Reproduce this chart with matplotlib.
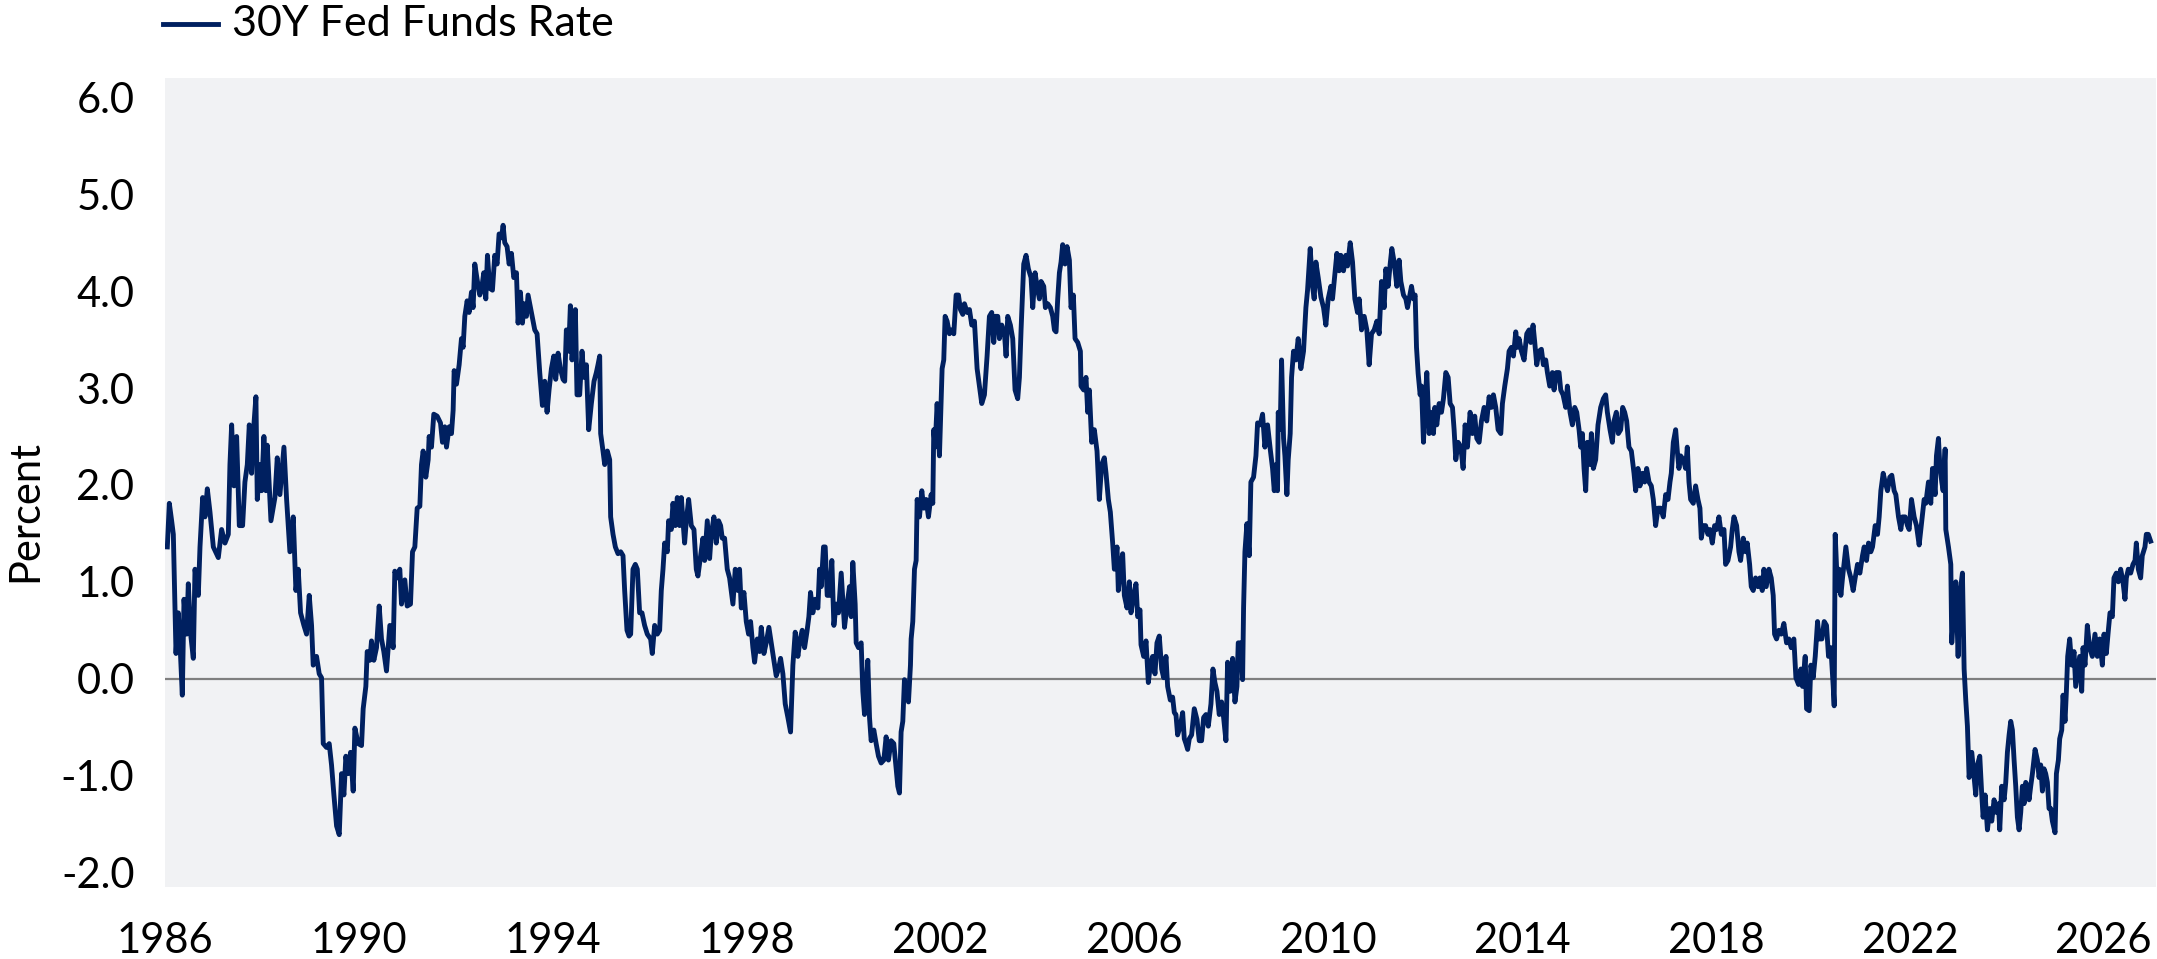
import numpy as np
import matplotlib.pyplot as plt
from matplotlib.lines import Line2D

plt.rcParams['font.family'] = ['Lato', 'DejaVu Sans']

SERIES_NAME = "30Y Fed Funds Rate"
Y_LABEL = "Percent"
X_TICKS = [1986, 1990, 1994, 1998, 2002, 2006, 2010, 2014, 2018, 2022, 2026]
Y_TICKS = [-2.0, -1.0, 0.0, 1.0, 2.0, 3.0, 4.0, 5.0, 6.0]

# values, decimal year -> percent
dates_1986 = [1986.048, 1986.089, 1986.137, 1986.172, 1986.227, 1986.275, 1986.309, 1986.357,
              1986.392, 1986.447, 1986.481, 1986.529, 1986.584, 1986.619, 1986.687, 1986.722,
              1986.777, 1986.825, 1986.873, 1986.928, 1986.997, 1987.100, 1987.168, 1987.237,
              1987.306, 1987.340, 1987.375, 1987.423, 1987.478, 1987.533, 1987.601, 1987.649,
              1987.698, 1987.739, 1987.787, 1987.821, 1987.876, 1987.904, 1987.959, 1987.993,
              1988.041, 1988.082, 1988.110, 1988.186, 1988.268, 1988.316, 1988.371, 1988.454,
              1988.509, 1988.577, 1988.646, 1988.701, 1988.749, 1988.797, 1988.866, 1988.921,
              1988.976, 1989.024, 1989.058, 1989.127, 1989.182, 1989.230, 1989.265, 1989.333,
              1989.388, 1989.436, 1989.485, 1989.540, 1989.595, 1989.643, 1989.691, 1989.732,
              1989.780, 1989.828, 1989.883, 1989.918, 1989.986, 1990.055, 1990.089, 1990.144,
              1990.172, 1990.227, 1990.261, 1990.309, 1990.364, 1990.419, 1990.467, 1990.515,
              1990.570, 1990.639, 1990.708, 1990.742, 1990.790, 1990.845, 1990.880, 1990.948,
              1990.997, 1991.065, 1991.107, 1991.155, 1991.203, 1991.258, 1991.292, 1991.326,
              1991.381, 1991.430, 1991.450, 1991.498, 1991.546, 1991.615, 1991.684, 1991.725,
              1991.773, 1991.808, 1991.863, 1991.911, 1991.945, 1991.966, 1992.014, 1992.069,
              1992.117, 1992.151, 1992.186, 1992.234, 1992.275, 1992.323, 1992.357, 1992.392,
              1992.440, 1992.495, 1992.529, 1992.577, 1992.619, 1992.653, 1992.701, 1992.756,
              1992.804, 1992.852, 1992.893, 1992.942, 1992.976, 1993.010, 1993.058, 1993.100,
              1993.148, 1993.196, 1993.251, 1993.285, 1993.333, 1993.375, 1993.409, 1993.457,
              1993.491, 1993.540, 1993.595, 1993.629, 1993.677, 1993.732, 1993.787, 1993.835,
              1993.883, 1993.924, 1993.973, 1994.021, 1994.062, 1994.110, 1994.158, 1994.213]
rate_1986 = [1.36, 1.81, 1.63, 1.49, 0.26, 0.68, 0.37, -0.17,
             0.82, 0.46, 0.98, 0.46, 0.21, 1.13, 0.86, 1.36,
             1.87, 1.67, 1.96, 1.72, 1.36, 1.25, 1.54, 1.40,
             1.49, 2.21, 2.62, 1.99, 2.50, 1.58, 1.58, 2.03,
             2.21, 2.62, 2.12, 2.53, 2.91, 1.85, 2.21, 1.94,
             2.50, 1.94, 2.41, 1.63, 1.87, 2.28, 1.90, 2.39,
             1.85, 1.31, 1.67, 0.91, 1.13, 0.68, 0.55, 0.46,
             0.86, 0.55, 0.14, 0.23, 0.05, 0.01, -0.67, -0.71,
             -0.67, -0.89, -1.20, -1.52, -1.61, -0.98, -1.20, -0.80,
             -0.98, -0.76, -1.16, -0.51, -0.67, -0.69, -0.31, -0.08,
             0.28, 0.19, 0.39, 0.19, 0.32, 0.75, 0.41, 0.28,
             0.08, 0.55, 0.32, 1.11, 1.04, 1.13, 0.77, 1.02,
             0.75, 0.77, 1.31, 1.36, 1.76, 1.78, 2.21, 2.35,
             2.08, 2.26, 2.50, 2.39, 2.73, 2.71, 2.64, 2.44,
             2.60, 2.39, 2.60, 2.53, 2.77, 3.18, 3.04, 3.24,
             3.51, 3.42, 3.74, 3.90, 3.78, 3.99, 3.83, 4.28,
             4.12, 3.96, 4.01, 4.19, 3.92, 4.37, 4.03, 4.01,
             4.37, 4.28, 4.59, 4.55, 4.68, 4.50, 4.46, 4.28,
             4.39, 4.14, 4.19, 3.67, 3.99, 3.67, 3.87, 3.74,
             3.96, 3.83, 3.69, 3.60, 3.56, 3.16, 2.82, 3.07,
             2.75, 2.98, 3.20, 3.33, 3.09, 3.36, 3.20, 3.09]

dates_1994 = [1994.247, 1994.281, 1994.329, 1994.364, 1994.398, 1994.439, 1994.467, 1994.501,
              1994.556, 1994.604, 1994.646, 1994.694, 1994.742, 1994.797, 1994.852, 1994.900,
              1994.934, 1994.969, 1994.989, 1995.037, 1995.072, 1995.127, 1995.175, 1995.195,
              1995.244, 1995.292, 1995.347, 1995.402, 1995.450, 1995.484, 1995.532, 1995.574,
              1995.608, 1995.656, 1995.704, 1995.745, 1995.793, 1995.841, 1995.896, 1995.951,
              1996.020, 1996.054, 1996.103, 1996.158, 1996.206, 1996.240, 1996.275, 1996.309,
              1996.364, 1996.391, 1996.446, 1996.481, 1996.529, 1996.570, 1996.618, 1996.653,
              1996.721, 1996.756, 1996.804, 1996.859, 1996.914, 1996.962, 1996.996, 1997.051,
              1997.099, 1997.134, 1997.189, 1997.237, 1997.271, 1997.326, 1997.374, 1997.422,
              1997.464, 1997.498, 1997.546, 1997.601, 1997.649, 1997.718, 1997.766, 1997.821,
              1997.855, 1997.890, 1997.945, 1997.993, 1998.041, 1998.082, 1998.130, 1998.165,
              1998.220, 1998.268, 1998.302, 1998.357, 1998.405, 1998.460, 1998.508, 1998.563,
              1998.611, 1998.659, 1998.701, 1998.749, 1998.797, 1998.852, 1998.907, 1998.955,
              1999.003, 1999.058, 1999.106, 1999.148, 1999.196, 1999.244, 1999.285, 1999.319,
              1999.367, 1999.416, 1999.471, 1999.505, 1999.539, 1999.587, 1999.622, 1999.663,
              1999.711, 1999.759, 1999.801, 1999.849, 1999.897, 1999.952, 2000.020, 2000.075,
              2000.123, 2000.158, 2000.192, 2000.240, 2000.261, 2000.309, 2000.364, 2000.398,
              2000.433, 2000.467, 2000.501, 2000.536, 2000.570, 2000.625, 2000.673, 2000.721,
              2000.776, 2000.831, 2000.879, 2000.927, 2000.982, 2001.037, 2001.085, 2001.120,
              2001.154, 2001.188, 2001.223, 2001.257, 2001.291, 2001.340, 2001.381, 2001.395,
              2001.429, 2001.464, 2001.498, 2001.519, 2001.567, 2001.615, 2001.656, 2001.704,
              2001.752, 2001.807, 2001.842, 2001.862, 2001.890, 2001.931, 2001.979, 2002.013,
              2002.034, 2002.068, 2002.096, 2002.137, 2002.185, 2002.233, 2002.275, 2002.323,
              2002.371, 2002.412, 2002.460, 2002.495, 2002.550, 2002.598, 2002.646]
rate_1994 = [3.07, 3.60, 3.38, 3.85, 3.29, 3.56, 3.81, 2.93,
             2.93, 3.38, 3.11, 3.24, 2.57, 2.84, 3.07, 3.16,
             3.24, 3.33, 2.53, 2.35, 2.21, 2.35, 2.26, 1.67,
             1.49, 1.36, 1.29, 1.31, 1.27, 0.91, 0.50, 0.44,
             0.46, 1.13, 1.18, 1.13, 0.68, 0.68, 0.55, 0.46,
             0.41, 0.26, 0.55, 0.46, 0.50, 0.91, 1.13, 1.40,
             1.31, 1.63, 1.54, 1.81, 1.58, 1.87, 1.58, 1.87,
             1.40, 1.63, 1.85, 1.58, 1.54, 1.13, 1.06, 1.27,
             1.45, 1.22, 1.63, 1.24, 1.49, 1.67, 1.40, 1.63,
             1.58, 1.45, 1.45, 1.13, 1.04, 0.77, 1.13, 0.91,
             1.13, 0.73, 0.89, 0.59, 0.46, 0.59, 0.32, 0.17,
             0.41, 0.28, 0.53, 0.26, 0.37, 0.53, 0.37, 0.19,
             0.03, 0.10, 0.21, 0.05, -0.26, -0.40, -0.55, 0.14,
             0.48, 0.23, 0.41, 0.50, 0.32, 0.48, 0.64, 0.89,
             0.68, 0.82, 0.73, 1.13, 0.95, 1.36, 1.36, 0.86,
             0.86, 1.22, 0.55, 0.77, 0.68, 1.09, 0.53, 0.77,
             0.95, 0.64, 1.20, 0.77, 0.37, 0.32, 0.37, -0.13,
             -0.37, -0.08, 0.19, -0.40, -0.64, -0.53, -0.67, -0.80,
             -0.87, -0.84, -0.60, -0.84, -0.64, -0.67, -0.93, -1.11,
             -1.18, -0.55, -0.44, -0.01, -0.08, -0.24, 0.14, 0.41,
             0.59, 1.13, 1.22, 1.85, 1.67, 1.94, 1.76, 1.85,
             1.67, 1.90, 1.81, 2.57, 2.39, 2.84, 2.30, 2.84,
             3.20, 3.29, 3.74, 3.69, 3.56, 3.60, 3.56, 3.96,
             3.96, 3.81, 3.76, 3.87, 3.78, 3.81, 3.65]

dates_2002 = [2002.701, 2002.756, 2002.804, 2002.852, 2002.907, 2002.962, 2003.010, 2003.058,
              2003.100, 2003.127, 2003.182, 2003.216, 2003.265, 2003.320, 2003.354, 2003.388,
              2003.443, 2003.491, 2003.539, 2003.594, 2003.629, 2003.663, 2003.718, 2003.766,
              2003.814, 2003.869, 2003.904, 2003.952, 2003.993, 2004.041, 2004.076, 2004.131,
              2004.165, 2004.213, 2004.268, 2004.316, 2004.351, 2004.385, 2004.419, 2004.454,
              2004.488, 2004.522, 2004.570, 2004.612, 2004.660, 2004.694, 2004.742, 2004.777,
              2004.832, 2004.887, 2004.900, 2004.955, 2005.003, 2005.038, 2005.072, 2005.120,
              2005.175, 2005.230, 2005.278, 2005.326, 2005.381, 2005.416, 2005.464, 2005.505,
              2005.553, 2005.588, 2005.643, 2005.670, 2005.711, 2005.759, 2005.794, 2005.849,
              2005.897, 2005.931, 2005.986, 2006.034, 2006.069, 2006.117, 2006.138, 2006.193,
              2006.241, 2006.289, 2006.330, 2006.378, 2006.426, 2006.467, 2006.515, 2006.564,
              2006.605, 2006.653, 2006.687, 2006.742, 2006.790, 2006.825, 2006.859, 2006.893,
              2006.948, 2006.997, 2007.031, 2007.065, 2007.100, 2007.134, 2007.182, 2007.237,
              2007.292, 2007.340, 2007.388, 2007.430, 2007.478, 2007.526, 2007.581, 2007.622,
              2007.663, 2007.704, 2007.752, 2007.801, 2007.842, 2007.890, 2007.924, 2007.979,
              2008.028, 2008.076, 2008.117, 2008.144, 2008.199, 2008.234, 2008.254, 2008.282,
              2008.323, 2008.371, 2008.405, 2008.460, 2008.509, 2008.543, 2008.598, 2008.646,
              2008.694, 2008.749, 2008.804, 2008.852, 2008.887, 2008.921, 2008.955, 2008.969,
              2009.010, 2009.038, 2009.079, 2009.107, 2009.148, 2009.175, 2009.216, 2009.244,
              2009.285, 2009.333, 2009.381, 2009.436, 2009.491, 2009.540, 2009.574, 2009.629,
              2009.677, 2009.711, 2009.746, 2009.794, 2009.849, 2009.904, 2009.952, 2010.000,
              2010.055, 2010.089, 2010.124, 2010.179, 2010.227, 2010.261, 2010.316, 2010.364,
              2010.399, 2010.454, 2010.502, 2010.550, 2010.605, 2010.639, 2010.688, 2010.743,
              2010.797, 2010.845, 2010.894, 2010.949, 2011.004, 2011.052, 2011.100]
rate_2002 = [3.69, 3.20, 3.02, 2.84, 2.93, 3.33, 3.74, 3.78,
             3.47, 3.74, 3.74, 3.51, 3.65, 3.56, 3.33, 3.74,
             3.65, 3.51, 2.98, 2.89, 3.11, 3.60, 4.28, 4.37,
             4.23, 4.14, 3.83, 4.19, 4.05, 3.92, 4.10, 4.05,
             3.83, 3.87, 3.83, 3.74, 3.60, 3.58, 3.92, 4.19,
             4.30, 4.48, 4.28, 4.46, 4.32, 3.83, 3.96, 3.51,
             3.47, 3.38, 3.02, 2.98, 3.11, 2.75, 2.98, 2.44,
             2.57, 2.35, 1.85, 2.21, 2.28, 2.12, 1.85, 1.72,
             1.40, 1.13, 1.36, 0.91, 1.13, 1.29, 0.86, 0.73,
             1.00, 0.68, 0.86, 0.98, 0.64, 0.71, 0.35, 0.23,
             0.39, -0.04, 0.14, 0.23, 0.05, 0.37, 0.44, 0.10,
             0.01, 0.23, -0.08, -0.22, -0.19, -0.35, -0.37, -0.58,
             -0.49, -0.35, -0.62, -0.67, -0.73, -0.62, -0.58, -0.31,
             -0.42, -0.64, -0.64, -0.40, -0.37, -0.49, -0.26, 0.10,
             -0.04, -0.13, -0.37, -0.24, -0.40, -0.64, 0.17, -0.13,
             0.21, -0.24, -0.08, 0.37, 0.37, -0.01, 0.73, 1.31,
             1.60, 1.27, 2.03, 2.08, 2.30, 2.64, 2.62, 2.73,
             2.39, 2.62, 2.37, 2.17, 1.94, 2.21, 1.94, 2.75,
             2.57, 3.29, 2.48, 2.30, 1.90, 2.26, 2.53, 3.11,
             3.38, 3.29, 3.51, 3.20, 3.38, 3.83, 4.01, 4.44,
             4.05, 3.92, 4.30, 4.14, 3.94, 3.83, 3.65, 3.92,
             4.05, 3.92, 4.10, 4.39, 4.21, 4.37, 4.21, 4.37,
             4.26, 4.50, 4.30, 3.92, 3.78, 3.92, 3.60, 3.74,
             3.60, 3.24, 3.56, 3.60, 3.69, 3.56, 4.10]

dates_2011 = [2011.155, 2011.189, 2011.237, 2011.279, 2011.313, 2011.361, 2011.416, 2011.464,
              2011.499, 2011.554, 2011.602, 2011.636, 2011.670, 2011.719, 2011.760, 2011.794,
              2011.822, 2011.856, 2011.897, 2011.925, 2011.966, 2011.994, 2012.035, 2012.083,
              2012.117, 2012.172, 2012.200, 2012.241, 2012.289, 2012.337, 2012.378, 2012.427,
              2012.475, 2012.516, 2012.564, 2012.598, 2012.633, 2012.681, 2012.736, 2012.784,
              2012.825, 2012.873, 2012.928, 2012.976, 2013.024, 2013.066, 2013.114, 2013.162,
              2013.217, 2013.272, 2013.320, 2013.368, 2013.409, 2013.457, 2013.506, 2013.561,
              2013.595, 2013.643, 2013.698, 2013.732, 2013.780, 2013.822, 2013.870, 2013.904,
              2013.938, 2013.987, 2014.042, 2014.097, 2014.145, 2014.179, 2014.227, 2014.262,
              2014.303, 2014.351, 2014.399, 2014.440, 2014.488, 2014.523, 2014.571, 2014.626,
              2014.660, 2014.708, 2014.763, 2014.798, 2014.846, 2014.901, 2014.935, 2014.990,
              2015.038, 2015.086, 2015.128, 2015.176, 2015.210, 2015.244, 2015.279, 2015.313,
              2015.347, 2015.402, 2015.430, 2015.471, 2015.519, 2015.567, 2015.622, 2015.677,
              2015.725, 2015.760, 2015.815, 2015.863, 2015.897, 2015.945, 2015.986, 2016.035,
              2016.076, 2016.117, 2016.158, 2016.206, 2016.255, 2016.310, 2016.344, 2016.392,
              2016.433, 2016.482, 2016.530, 2016.571, 2016.619, 2016.667, 2016.708, 2016.756,
              2016.805, 2016.859, 2016.914, 2016.963, 2017.011, 2017.052, 2017.079, 2017.121,
              2017.169, 2017.203, 2017.237, 2017.272, 2017.327, 2017.375, 2017.409, 2017.444,
              2017.478, 2017.533, 2017.581, 2017.629, 2017.670, 2017.698, 2017.739, 2017.787,
              2017.835, 2017.877, 2017.925, 2017.973, 2018.014, 2018.062, 2018.111, 2018.166,
              2018.200, 2018.248, 2018.303, 2018.337, 2018.372, 2018.427, 2018.475, 2018.509,
              2018.564, 2018.612, 2018.646, 2018.695, 2018.729, 2018.770, 2018.818, 2018.866,
              2018.908, 2018.956, 2018.990, 2019.038, 2019.093, 2019.141, 2019.182, 2019.210,
              2019.251, 2019.299, 2019.347, 2019.402, 2019.457, 2019.505, 2019.553, 2019.608]
rate_2011 = [3.83, 4.23, 4.05, 4.28, 4.44, 4.30, 4.05, 4.32,
             4.10, 3.96, 3.92, 3.83, 3.92, 4.05, 3.92, 3.96,
             3.42, 3.15, 2.93, 3.02, 2.44, 2.80, 3.16, 2.53,
             2.75, 2.53, 2.80, 2.62, 2.84, 2.75, 2.89, 3.16,
             3.11, 2.84, 2.80, 2.57, 2.26, 2.44, 2.39, 2.17,
             2.62, 2.39, 2.75, 2.53, 2.71, 2.48, 2.44, 2.66,
             2.80, 2.66, 2.91, 2.80, 2.93, 2.80, 2.57, 2.53,
             2.84, 3.02, 3.20, 3.38, 3.42, 3.33, 3.58, 3.42,
             3.51, 3.38, 3.29, 3.56, 3.60, 3.47, 3.65, 3.47,
             3.24, 3.38, 3.40, 3.24, 3.29, 3.16, 3.02, 3.16,
             2.98, 3.16, 3.16, 2.98, 2.93, 2.80, 3.02, 2.75,
             2.62, 2.80, 2.75, 2.57, 2.39, 2.53, 2.17, 1.94,
             2.44, 2.21, 2.53, 2.17, 2.26, 2.62, 2.80, 2.89,
             2.93, 2.75, 2.57, 2.44, 2.66, 2.75, 2.53, 2.57,
             2.80, 2.75, 2.66, 2.39, 2.35, 2.12, 1.94, 2.17,
             1.99, 2.12, 2.03, 2.17, 2.03, 1.99, 1.85, 1.58,
             1.76, 1.76, 1.67, 1.90, 1.85, 2.03, 2.12, 2.44,
             2.57, 2.35, 2.17, 2.30, 2.26, 2.17, 2.39, 2.03,
             1.85, 1.81, 1.99, 1.85, 1.76, 1.45, 1.58, 1.58,
             1.49, 1.54, 1.40, 1.58, 1.54, 1.67, 1.49, 1.54,
             1.18, 1.22, 1.36, 1.54, 1.67, 1.58, 1.31, 1.22,
             1.45, 1.31, 1.40, 1.18, 0.95, 0.91, 1.04, 0.95,
             1.04, 0.91, 1.13, 0.95, 1.13, 1.04, 0.86, 0.46,
             0.41, 0.50, 0.46, 0.57, 0.37, 0.41, 0.32, 0.41]

dates_2019 = [2019.650, 2019.705, 2019.753, 2019.787, 2019.842, 2019.870, 2019.925, 2019.959,
              2020.007, 2020.049, 2020.097, 2020.131, 2020.186, 2020.234, 2020.282, 2020.323,
              2020.372, 2020.420, 2020.440, 2020.461, 2020.509, 2020.543, 2020.578, 2020.612,
              2020.681, 2020.736, 2020.784, 2020.832, 2020.873, 2020.921, 2020.970, 2021.024,
              2021.059, 2021.107, 2021.148, 2021.196, 2021.231, 2021.286, 2021.334, 2021.368,
              2021.403, 2021.451, 2021.492, 2021.540, 2021.588, 2021.629, 2021.677, 2021.712,
              2021.767, 2021.815, 2021.849, 2021.904, 2021.952, 2021.987, 2022.035, 2022.090,
              2022.138, 2022.193, 2022.248, 2022.296, 2022.330, 2022.385, 2022.433, 2022.468,
              2022.523, 2022.550, 2022.591, 2022.619, 2022.660, 2022.688, 2022.729, 2022.743,
              2022.798, 2022.846, 2022.866, 2022.915, 2022.949, 2022.997, 2023.031, 2023.086,
              2023.121, 2023.155, 2023.189, 2023.224, 2023.279, 2023.327, 2023.361, 2023.396,
              2023.444, 2023.485, 2023.513, 2023.554, 2023.602, 2023.650, 2023.691, 2023.739,
              2023.787, 2023.829, 2023.856, 2023.897, 2023.946, 2023.980, 2024.014, 2024.049,
              2024.083, 2024.117, 2024.152, 2024.186, 2024.220, 2024.255, 2024.289, 2024.323,
              2024.358, 2024.392, 2024.427, 2024.461, 2024.495, 2024.530, 2024.585, 2024.633,
              2024.667, 2024.701, 2024.736, 2024.770, 2024.804, 2024.839, 2024.873, 2024.908,
              2024.942, 2024.997, 2025.025, 2025.066, 2025.093, 2025.135, 2025.162, 2025.203,
              2025.231, 2025.258, 2025.299, 2025.341, 2025.389, 2025.423, 2025.457, 2025.505,
              2025.547, 2025.574, 2025.615, 2025.663, 2025.711, 2025.766, 2025.821, 2025.870,
              2025.918, 2025.973, 2026.007, 2026.055, 2026.097, 2026.131, 2026.179, 2026.213,
              2026.261, 2026.303, 2026.351, 2026.399, 2026.440, 2026.468, 2026.509, 2026.557,
              2026.605, 2026.647, 2026.674, 2026.715, 2026.763, 2026.797, 2026.852, 2026.880,
              2026.921, 2026.969]
rate_2019 = [0.01, -0.06, 0.10, -0.08, 0.23, -0.31, -0.33, 0.14,
             0.01, 0.23, 0.59, 0.41, 0.41, 0.59, 0.55, 0.23,
             0.32, -0.08, -0.28, 1.49, 0.91, 1.13, 0.86, 1.04,
             1.36, 1.13, 1.04, 0.91, 1.04, 1.18, 1.09, 1.27,
             1.36, 1.22, 1.40, 1.31, 1.36, 1.58, 1.49, 1.67,
             1.94, 2.12, 2.03, 1.94, 2.08, 2.10, 1.94, 1.90,
             1.67, 1.54, 1.67, 1.67, 1.58, 1.54, 1.85, 1.67,
             1.58, 1.38, 1.63, 1.85, 1.81, 2.03, 1.81, 2.17,
             1.90, 2.30, 2.48, 2.21, 2.03, 1.94, 2.37, 1.54,
             1.36, 1.18, 0.37, 0.77, 1.00, 0.23, 0.86, 1.09,
             0.10, -0.22, -0.49, -1.02, -0.76, -1.02, -1.20, -0.89,
             -0.80, -1.20, -1.43, -1.20, -1.56, -1.34, -1.47, -1.25,
             -1.38, -1.29, -1.56, -1.11, -1.25, -1.07, -0.76, -0.58,
             -0.44, -0.53, -0.84, -1.11, -1.43, -1.56, -1.38, -1.11,
             -1.29, -1.07, -1.11, -1.25, -1.11, -0.98, -0.73, -0.84,
             -1.02, -0.89, -1.16, -0.93, -0.98, -1.07, -1.34, -1.34,
             -1.47, -1.59, -0.98, -0.84, -0.62, -0.53, -0.17, -0.44,
             -0.13, 0.23, 0.41, 0.14, 0.28, -0.08, 0.05, 0.23,
             -0.13, 0.32, 0.14, 0.55, 0.32, 0.23, 0.46, 0.23,
             0.41, 0.14, 0.46, 0.26, 0.50, 0.68, 0.64, 1.04,
             1.09, 1.00, 1.13, 1.00, 0.82, 1.04, 1.13, 1.09,
             1.18, 1.22, 1.40, 1.13, 1.04, 1.27, 1.36, 1.49,
             1.49, 1.42]

dates = np.concatenate([dates_1986, dates_1994, dates_2002, dates_2011, dates_2019])
rate = np.concatenate([rate_1986, rate_1994, rate_2002, rate_2011, rate_2019])

W, H = 2157, 959
fig = plt.figure(figsize=(W / 100, H / 100), dpi=100)
ax = fig.add_axes([165 / W, 1 - 887 / H, (2156 - 165) / W, (887 - 78) / H])
ax.set_facecolor('#f1f2f4')

ax.axhline(0, color='#7f7f7f', lw=1.6, zorder=1)
ax.plot(dates, rate, color='#002060', lw=3.5, solid_joinstyle='round', zorder=2)

ax.set_xlim(1986, 2027.08)
ax.set_ylim(-2.15, 6.2)
ax.set_xticks(X_TICKS)
ax.set_xticklabels([str(t) for t in X_TICKS])
ax.set_yticks(Y_TICKS)
ax.set_yticklabels([f"{t:.1f}" for t in Y_TICKS])
ax.tick_params(axis='both', length=0, labelsize=30, colors='black')
ax.tick_params(axis='y', pad=22)
ax.tick_params(axis='x', pad=25)
for s in ax.spines.values():
    s.set_visible(False)

fig.text(25 / W, 1 - 511 / H, Y_LABEL, rotation=90, ha='center', va='center', fontsize=30)

# legend drawn by hand at the top left
fig.add_artist(Line2D([163 / W, 218 / W], [1 - 24 / H, 1 - 24 / H], color='#002060', lw=3.5))
fig.text(232 / W, 1 - 24 / H, SERIES_NAME, ha='left', va='center', fontsize=31)

fig.savefig('out.png', dpi=100)
